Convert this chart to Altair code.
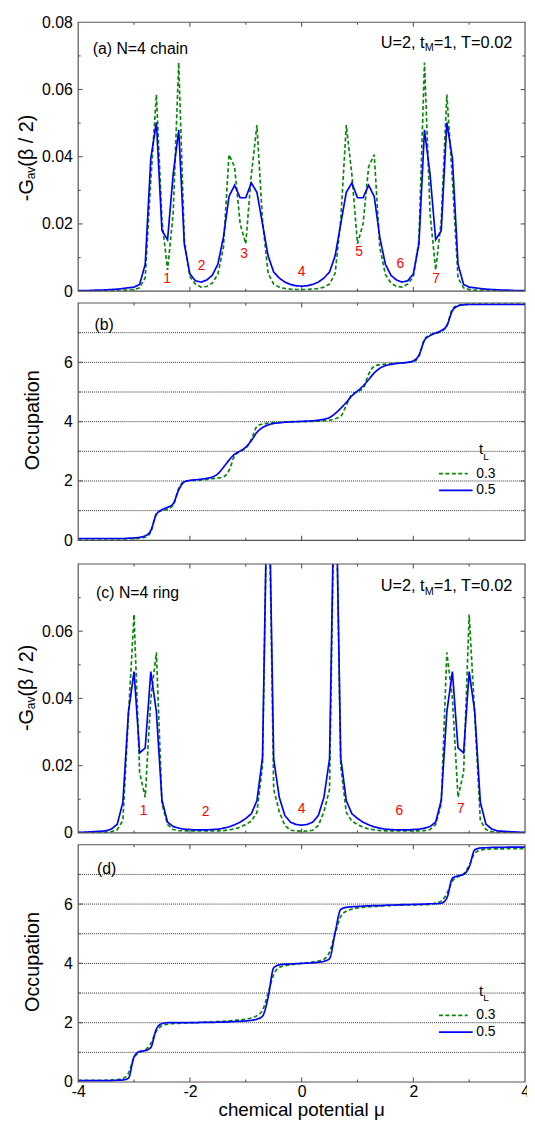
import altair as alt
import pandas as pd

# chemical potential grid (step 0.1 from -4 to 4)
MU = [round(-4 + 0.1 * i, 1) for i in range(81)]

# (a) N=4 chain, -G_av(beta/2)
GA_03 = [0.0001, 0.0001, 0.0001, 0.0001, 0.0001, 0.0001, 0.0002, 0.0002, 0.0003, 0.0003,
         0.0005, 0.0010, 0.0040, 0.0330, 0.0585, 0.0210, 0.0063, 0.0230, 0.0680, 0.0150,
         0.0043, 0.0021, 0.0012, 0.0014, 0.0024, 0.0050, 0.0130, 0.0406, 0.0370, 0.0200,
         0.0141, 0.0347, 0.0494, 0.0210, 0.0053, 0.0021, 0.0012, 0.0008, 0.0006, 0.0005,
         0.0005,
         0.0005, 0.0006, 0.0008, 0.0012, 0.0021, 0.0053, 0.0210, 0.0494, 0.0347, 0.0141,
         0.0200, 0.0370, 0.0406, 0.0130, 0.0050, 0.0024, 0.0014, 0.0012, 0.0021, 0.0043,
         0.0150, 0.0680, 0.0230, 0.0063, 0.0210, 0.0585, 0.0330, 0.0040, 0.0010, 0.0005,
         0.0003, 0.0003, 0.0002, 0.0002, 0.0001, 0.0001, 0.0001, 0.0001, 0.0001, 0.0001]
GA_05 = [0.0002, 0.0002, 0.0002, 0.0003, 0.0003, 0.0004, 0.0005, 0.0006, 0.0008, 0.0010,
         0.0012, 0.0020, 0.0080, 0.0395, 0.0502, 0.0180, 0.0153, 0.0347, 0.0480, 0.0140,
         0.0051, 0.0031, 0.0027, 0.0033, 0.0047, 0.0080, 0.0160, 0.0282, 0.0315, 0.0278,
         0.0278, 0.0322, 0.0294, 0.0200, 0.0105, 0.0057, 0.0039, 0.0027, 0.0020, 0.0016,
         0.0015,
         0.0016, 0.0020, 0.0027, 0.0039, 0.0057, 0.0105, 0.0200, 0.0294, 0.0322, 0.0278,
         0.0278, 0.0315, 0.0282, 0.0160, 0.0080, 0.0047, 0.0033, 0.0027, 0.0031, 0.0051,
         0.0140, 0.0480, 0.0347, 0.0153, 0.0180, 0.0502, 0.0395, 0.0080, 0.0020, 0.0012,
         0.0010, 0.0008, 0.0006, 0.0005, 0.0004, 0.0003, 0.0003, 0.0002, 0.0002, 0.0002]

# (b) N=4 chain, occupation
OB_03 = [0.05, 0.05, 0.05, 0.05, 0.05, 0.05, 0.05, 0.05, 0.05, 0.05,
         0.06, 0.07, 0.10, 0.28, 0.90, 1.00, 1.05, 1.18, 1.75, 1.98,
         2.01, 2.02, 2.03, 2.05, 2.08, 2.10, 2.14, 2.35, 2.85, 3.00,
         3.10, 3.40, 3.84, 3.92, 3.95, 3.97, 3.98, 3.99, 4.00, 4.00,
         4.00,
         4.00, 4.01, 4.02, 4.03, 4.05, 4.10, 4.18, 4.55, 4.92, 5.02,
         5.12, 5.60, 5.87, 5.92, 5.94, 5.96, 5.97, 5.98, 6.00, 6.02,
         6.20, 6.78, 6.93, 6.98, 7.04, 7.22, 7.80, 7.92, 7.95, 7.96,
         7.96, 7.96, 7.96, 7.96, 7.96, 7.96, 7.96, 7.96, 7.96, 7.96]
OB_05 = [0.06, 0.06, 0.06, 0.06, 0.06, 0.06, 0.06, 0.06, 0.06, 0.07,
         0.08, 0.10, 0.15, 0.33, 0.87, 1.03, 1.11, 1.23, 1.70, 1.97,
         2.02, 2.04, 2.06, 2.09, 2.13, 2.24, 2.46, 2.70, 2.90, 3.01,
         3.14, 3.36, 3.64, 3.80, 3.89, 3.94, 3.96, 3.98, 3.99, 4.00,
         4.01,
         4.02, 4.03, 4.05, 4.08, 4.14, 4.27, 4.45, 4.65, 4.87, 5.03,
         5.20, 5.42, 5.64, 5.80, 5.89, 5.93, 5.96, 5.98, 6.00, 6.05,
         6.24, 6.74, 6.90, 6.99, 7.07, 7.24, 7.74, 7.90, 7.94, 7.95,
         7.95, 7.95, 7.95, 7.95, 7.95, 7.95, 7.95, 7.95, 7.95, 7.95]

# (c) N=4 ring, -G_av(beta/2)
GC_03 = [0.0001, 0.0001, 0.0001, 0.0001, 0.0002, 0.0002, 0.0004, 0.0010, 0.0037, 0.0350,
         0.0650, 0.0180, 0.0106, 0.0400, 0.0537, 0.0086, 0.0025, 0.0010, 0.0007, 0.0006,
         0.0006, 0.0006, 0.0006, 0.0006, 0.0006, 0.0006, 0.0007, 0.0009, 0.0012, 0.0017,
         0.0025, 0.0035, 0.0061, 0.0200, 0.1200, 0.0130, 0.0063, 0.0022, 0.0008, 0.0006,
         0.0005,
         0.0006, 0.0008, 0.0022, 0.0063, 0.0130, 0.1200, 0.0200, 0.0061, 0.0035, 0.0025,
         0.0017, 0.0012, 0.0009, 0.0007, 0.0006, 0.0006, 0.0006, 0.0006, 0.0006, 0.0006,
         0.0006, 0.0007, 0.0010, 0.0025, 0.0086, 0.0537, 0.0400, 0.0106, 0.0180, 0.0650,
         0.0350, 0.0037, 0.0010, 0.0004, 0.0002, 0.0002, 0.0001, 0.0001, 0.0001, 0.0001]
GC_05 = [0.0002, 0.0002, 0.0003, 0.0004, 0.0005, 0.0006, 0.0012, 0.0026, 0.0091, 0.0360,
         0.0480, 0.0238, 0.0253, 0.0480, 0.0360, 0.0097, 0.0032, 0.0019, 0.0014, 0.0011,
         0.0010, 0.0009, 0.0009, 0.0009, 0.0010, 0.0011, 0.0014, 0.0018, 0.0024, 0.0032,
         0.0043, 0.0057, 0.0096, 0.0224, 0.1200, 0.0220, 0.0106, 0.0052, 0.0032, 0.0025,
         0.0023,
         0.0025, 0.0032, 0.0052, 0.0106, 0.0220, 0.1200, 0.0224, 0.0096, 0.0057, 0.0043,
         0.0032, 0.0024, 0.0018, 0.0014, 0.0011, 0.0010, 0.0009, 0.0009, 0.0009, 0.0010,
         0.0011, 0.0014, 0.0019, 0.0032, 0.0097, 0.0360, 0.0480, 0.0253, 0.0238, 0.0480,
         0.0360, 0.0091, 0.0026, 0.0012, 0.0006, 0.0005, 0.0004, 0.0003, 0.0002, 0.0002]

# (d) N=4 ring, occupation
OD_03 = [0.06, 0.06, 0.06, 0.06, 0.06, 0.06, 0.07, 0.08, 0.12, 0.30,
         0.82, 1.00, 1.08, 1.30, 1.72, 1.90, 1.95, 1.97, 1.98, 1.99,
         2.00, 2.00, 2.01, 2.02, 2.03, 2.04, 2.05, 2.06, 2.08, 2.10,
         2.12, 2.16, 2.24, 2.42, 3.00, 3.62, 3.86, 3.92, 3.95, 3.98,
         4.00,
         4.02, 4.05, 4.08, 4.14, 4.38, 5.00, 5.58, 5.76, 5.83, 5.87,
         5.89, 5.91, 5.92, 5.93, 5.94, 5.95, 5.96, 5.96, 5.97, 5.97,
         5.98, 5.98, 5.99, 6.04, 6.10, 6.35, 6.78, 6.92, 7.02, 7.30,
         7.72, 7.82, 7.85, 7.86, 7.86, 7.86, 7.87, 7.87, 7.87, 7.87]
OD_05 = [0.05, 0.05, 0.05, 0.05, 0.05, 0.05, 0.05, 0.06, 0.07, 0.13,
         0.85, 1.03, 1.06, 1.16, 1.79, 1.97, 2.00, 2.00, 2.00, 2.00,
         2.00, 2.00, 2.01, 2.01, 2.01, 2.02, 2.02, 2.03, 2.04, 2.05,
         2.06, 2.08, 2.12, 2.22, 2.85, 3.85, 3.95, 3.97, 3.98, 3.99,
         4.00,
         4.01, 4.02, 4.04, 4.07, 4.16, 5.04, 5.82, 5.89, 5.91, 5.92,
         5.93, 5.94, 5.95, 5.95, 5.96, 5.97, 5.97, 5.98, 5.98, 5.99,
         5.99, 6.00, 6.01, 6.01, 6.03, 6.20, 6.87, 6.95, 7.00, 7.25,
         7.83, 7.89, 7.90, 7.91, 7.91, 7.91, 7.92, 7.92, 7.92, 7.92]

# tick values / labels
X_LABELS = [-4, -2, 0, 2, 4]
X_MAJOR = [-2, 0, 2]
X_MINOR = [-3, -1, 1, 3]
G_LABELS_A = [0, 0.02, 0.04, 0.06, 0.08]
G_LABELS_C = [0, 0.02, 0.04, 0.06]
G_MAJOR = [0.02, 0.04, 0.06]
G_MINOR = [0.01, 0.03, 0.05, 0.07]
N_LABELS = [0, 2, 4, 6]
N_MAJOR = [2, 4, 6]
N_MINOR = [1, 3, 5, 7]
N_GRID = [1, 2, 3, 4, 5, 6, 7]

# red region numbers
NUM_A_LAB = ["1", "2", "3", "4", "5", "6", "7"]
NUM_A_MU = [-2.41, -1.79, -1.03, 0.0, 1.03, 1.77, 2.41]
NUM_A_VAL = [0.0035, 0.0076, 0.0110, 0.0056, 0.0116, 0.0080, 0.0035]
NUM_C_LAB = ["1", "2", "4", "6", "7"]
NUM_C_MU = [-2.83, -1.72, 0.0, 1.75, 2.85]
NUM_C_VAL = [0.0065, 0.0061, 0.0070, 0.0065, 0.0071]

SERIES = ["0.3", "0.5"]
GREEN = "#0a870a"
BLUE = "#0000ff"
FONT = "Liberation Sans"
FRAME = "#555555"
W = 452
ONE = pd.DataFrame({"k": [0]})
XS = alt.Scale(domain=[-4, 4], nice=False, zero=False)


def txt(s, x, y, size=16, align="left", baseline="alphabetic", color="black", angle=0):
    return alt.Chart(ONE).mark_text(
        align=align, baseline=baseline, fontSize=size, font=FONT, color=color, angle=angle
    ).encode(x=alt.value(x), y=alt.value(y), text=alt.value(s))


def panel(y03, y05, ydom, ylabels, ymajor, yminor, H, interp, extra, off=0, grid=None, show_x=False):
    ys = alt.Scale(domain=ydom, range=[off + H, off], nice=False, zero=False)
    if show_x:
        xaxis = alt.Axis(values=X_LABELS, labelExpr="datum.value < 0 ? '-' + abs(datum.value) : '' + datum.value",
                         ticks=False, domain=False, grid=False, labelFont=FONT, labelFontSize=16,
                         labelColor="black", labelPadding=2, labelFlush=False, title=None)
    else:
        xaxis = None
    yaxis = alt.Axis(values=ylabels, format="~g", ticks=False,
                     domain=False, grid=False, labelFont=FONT, labelFontSize=16,
                     labelColor="black", labelPadding=6, labelFlush=False, title=None)

    def X(f):
        return alt.X(f, scale=XS, axis=xaxis, title=None)

    def Y(f):
        return alt.Y(f, scale=ys, axis=yaxis, title=None)

    n = len(MU)
    df = pd.DataFrame({"mu": MU + MU, "val": y03 + y05, "tL": ["0.3"] * n + ["0.5"] * n})
    layers = []
    if grid:
        layers.append(
            alt.Chart(pd.DataFrame({"g": grid})).mark_rule(
                color="#333333", strokeWidth=1, strokeDash=[1, 1]
            ).encode(y=Y("g:Q"), x=alt.value(0), x2=alt.value(W))
        )
    layers.append(
        alt.Chart(df).mark_line(clip=True, interpolate=interp, strokeWidth=1.7).encode(
            x=X("mu:Q"),
            y=Y("val:Q"),
            color=alt.Color("tL:N", scale=alt.Scale(domain=SERIES, range=[GREEN, BLUE]), legend=None),
            strokeDash=alt.StrokeDash("tL:N", scale=alt.Scale(domain=SERIES, range=[[4, 2.5], [1, 0]]),
                                      legend=None),
        )
    )
    if off > 0:
        # blank band above the plot area (hides lines running past the top of the frame)
        layers.append(
            alt.Chart(ONE).mark_rect(fill="white", stroke=None).encode(
                x=alt.value(-2), x2=alt.value(W + 2), y=alt.value(-3), y2=alt.value(off))
        )
    # inward ticks on all four sides
    for vals, L in ((X_MAJOR, 4.5), (X_MINOR, 2.5)):
        base = alt.Chart(pd.DataFrame({"t": vals})).mark_rule(color=FRAME, strokeWidth=1.1)
        layers.append(base.encode(x=X("t:Q"), y=alt.value(off), y2=alt.value(off + L)))
        layers.append(base.encode(x=X("t:Q"), y=alt.value(off + H), y2=alt.value(off + H - L)))
    for vals, L in ((ymajor, 4.5), (yminor, 2.5)):
        base = alt.Chart(pd.DataFrame({"t": vals})).mark_rule(color=FRAME, strokeWidth=1.1)
        layers.append(base.encode(y=Y("t:Q"), x=alt.value(0), x2=alt.value(L)))
        layers.append(base.encode(y=Y("t:Q"), x=alt.value(W), x2=alt.value(W - L)))
    # frame
    layers.append(
        alt.Chart(ONE).mark_rect(fillOpacity=0, stroke=FRAME, strokeWidth=1.2).encode(
            x=alt.value(0), x2=alt.value(W), y=alt.value(off), y2=alt.value(off + H))
    )
    layers += extra(X, Y)
    return alt.layer(*layers).properties(width=W, height=off + H)


def numbers(mus, vals, labs, X, Y):
    df = pd.DataFrame({"mu": mus, "val": vals, "lab": labs})
    return alt.Chart(df).mark_text(
        font=FONT, fontSize=14, color="#ff0000", align="center", baseline="middle"
    ).encode(x=X("mu:Q"), y=Y("val:Q"), text="lab:N")


def g_title(y0):
    return [
        txt("-G", -45.5, y0, 20, angle=270),
        txt("av", -43.5, y0 - 22.2, 12, angle=270),
        txt("(β / 2)", -45.5, y0 - 22.2 - 12.7, 20, angle=270),
    ]


def params_text(B):
    x0 = 306
    return [
        txt("U=2, t", x0, B, 16.5),
        txt("M", x0 + 44.5, B + 3.5, 11),
        txt("=1, T=0.02", x0 + 44.5 + 9.2, B, 16.5),
    ]


def legend_layers():
    return [
        txt("t", 405.5, 153, 15),
        txt("L", 409.7, 158.5, 10),
        alt.Chart(ONE).mark_rule(color=GREEN, strokeWidth=1.8, strokeDash=[4, 2.5]).encode(
            x=alt.value(365), x2=alt.value(394), y=alt.value(172.5)),
        alt.Chart(ONE).mark_rule(color=BLUE, strokeWidth=1.8).encode(
            x=alt.value(365), x2=alt.value(399), y=alt.value(189.5)),
        txt("0.3", 402.7, 172.5, 14, baseline="middle"),
        txt("0.5", 402.7, 189.5, 14, baseline="middle"),
    ]


OFF_C = 12

pa = panel(GA_03, GA_05, [0, 0.08], G_LABELS_A, G_MAJOR, G_MINOR, 272, "linear",
           lambda X, Y: [numbers(NUM_A_MU, NUM_A_VAL, NUM_A_LAB, X, Y),
                         txt("(a) N=4 chain", 14.7, 32, 16)] + params_text(25.7) + g_title(181))
pb = panel(OB_03, OB_05, [0, 8], N_LABELS, N_MAJOR, N_MINOR, 240, "monotone",
           lambda X, Y: [txt("(b)", 16.4, 27.5, 16),
                         txt("Occupation", -40, 118.5, 20, "center", angle=270)] + legend_layers(),
           grid=N_GRID)
pc = panel(GC_03, GC_05, [0, 0.08], G_LABELS_C, G_MAJOR, G_MINOR, 272, "linear",
           lambda X, Y: [numbers(NUM_C_MU, NUM_C_VAL, NUM_C_LAB, X, Y),
                         txt("(c) N=4 ring", 18.1, OFF_C + 34, 16)]
           + params_text(OFF_C + 27.7) + g_title(OFF_C + 169),
           off=OFF_C)
pd_ = panel(OD_03, OD_05, [0, 8], N_LABELS, N_MAJOR, N_MINOR, 240, "monotone",
            lambda X, Y: [txt("(d)", 19.1, 29.7, 16),
                          txt("Occupation", -40, 118.5, 20, "center", angle=270),
                          txt("chemical potential μ", W / 2, 274, 19, "center")] + legend_layers(),
            grid=N_GRID, show_x=True)

chart = alt.vconcat(pa, pb, pc, pd_, spacing=12, bounds="flush").properties(
    padding={"left": 9, "top": 0, "right": -3, "bottom": -4}
).configure_view(stroke=None)

chart.save("out.html", embed_options={"renderer": "svg", "actions": False})
